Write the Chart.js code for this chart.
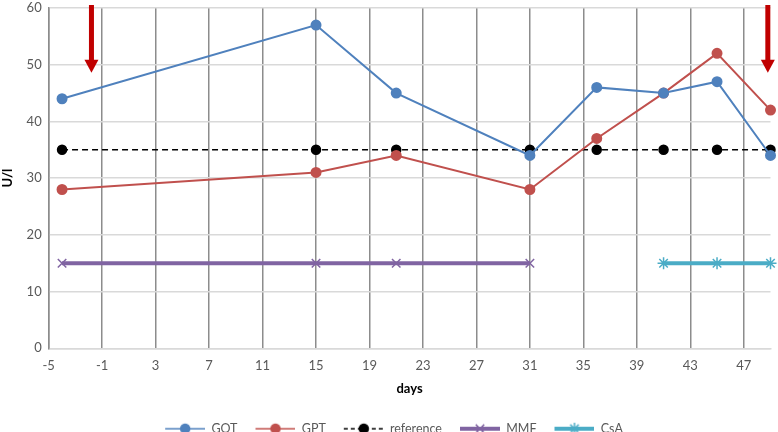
<!DOCTYPE html>
<html>
<head>
<meta charset="utf-8">
<script src="https://cdn.jsdelivr.net/npm/chart.js@4/dist/chart.umd.min.js"></script>
<style>
  html, body { margin: 0; padding: 0; background: #fff; }
  #wrap { width: 778px; height: 432px; }
</style>
</head>
<body>
<div id="wrap"><canvas id="lineChart"></canvas></div>
<script>
const days = [-4, 15, 21, 31, 36, 41, 45, 49];
const gotValues = [44, 57, 45, 34, 46, 45, 47, 34];
const gptValues = [28, 31, 34, 28, 37, 45, 52, 42];
const referenceValues = [35, 35, 35, 35, 35, 35, 35, 35];
const mmfDays = [-4, 15, 21, 31];
const mmfValues = [15, 15, 15, 15];
const csaDays = [41, 45, 49];
const csaValues = [15, 15, 15];
const xTicks = [-5, -1, 3, 7, 11, 15, 19, 23, 27, 31, 35, 39, 43, 47];
const arrowDays = [-1.8, 48.8];

Chart.defaults.font.family = 'Lato'
Chart.defaults.font.size = 13
Chart.defaults.color = '#595959'

const toPoints = (xs, ys) => xs.map((x, i) => ({ x: x, y: ys[i] }));

// line+marker picture for the legend, blank space on the left keeps items apart
const legendIcon = (color, width, dash, style, radius) => {
  const c = document.createElement('canvas');
  c.width = 54;
  c.height = 14;
  const ctx = c.getContext('2d');
  ctx.strokeStyle = color;
  ctx.fillStyle = color;
  ctx.lineWidth = width;
  ctx.setLineDash(dash);
  ctx.beginPath();
  ctx.moveTo(14, 7);
  ctx.lineTo(54, 7);
  ctx.stroke();
  ctx.setLineDash([]);
  ctx.lineWidth = 1.5;
  Chart.helpers.drawPoint(ctx, { pointStyle: style, radius: radius, borderWidth: 1.5 }, 34, 7);
  if (style === 'circle') ctx.fill();
  return c;
};

const arrowPlugin = {
  id: 'arrows',
  afterDatasetsDraw(chart) {
    const { ctx, scales: { x, y } } = chart;
    ctx.save();
    ctx.fillStyle = '#c00000';
    arrowDays.forEach((d) => {
      const px = x.getPixelForValue(d);
      const top = y.getPixelForValue(60) - 3;
      const tip = y.getPixelForValue(48.6);
      ctx.fillRect(px - 2.5, top, 5, tip - top - 10);
      ctx.beginPath();
      ctx.moveTo(px - 7, tip - 13);
      ctx.lineTo(px + 7, tip - 13);
      ctx.lineTo(px, tip);
      ctx.closePath();
      ctx.fill();
    });
    ctx.restore();
  }
};

const icons = [
  legendIcon('#4f81bd', 1.5, [], 'circle', 4.5),
  legendIcon('#c0504d', 1.5, [], 'circle', 4.5),
  legendIcon('#000000', 1.5, [4, 3], 'circle', 4.5),
  legendIcon('#8064a2', 4, [], 'crossRot', 6),
  legendIcon('#4bacc6', 4, [], 'star', 6)
];

new Chart(document.getElementById('lineChart'), {
  type: 'line',
  data: {
    datasets: [{
      label: 'GOT',
      data: toPoints(days, gotValues),
      borderColor: '#4f81bd',
      backgroundColor: '#4f81bd',
      borderWidth: 2,
      pointRadius: 4.5,
      pointStyle: 'circle'
    }, {
      label: 'GPT',
      data: toPoints(days, gptValues),
      borderColor: '#c0504d',
      backgroundColor: '#c0504d',
      borderWidth: 2,
      pointRadius: 4.5,
      pointStyle: 'circle'
    }, {
      label: 'reference',
      data: toPoints(days, referenceValues),
      borderColor: '#000000',
      backgroundColor: '#000000',
      borderWidth: 1.5,
      borderDash: [6, 4],
      pointRadius: 4.5,
      pointStyle: 'circle'
    }, {
      label: 'MMF',
      data: toPoints(mmfDays, mmfValues),
      borderColor: '#8064a2',
      backgroundColor: '#8064a2',
      borderWidth: 4,
      pointRadius: 6,
      pointBorderWidth: 1.5,
      pointStyle: 'crossRot'
    }, {
      label: 'CsA',
      data: toPoints(csaDays, csaValues),
      borderColor: '#4bacc6',
      backgroundColor: '#4bacc6',
      borderWidth: 4,
      pointRadius: 6,
      pointBorderWidth: 1.5,
      pointStyle: 'star'
    }]
  },
  options: {
    responsive: true,
    maintainAspectRatio: false,
    animation: false,
    clip: false,
    layout: { padding: { top: 8, right: 4, left: 0, bottom: -13 } },
    plugins: {
      tooltip: { enabled: false },
      legend: {
        position: 'bottom',
        labels: {
          usePointStyle: true,
          pointStyleWidth: 54,
          font: { size: 12.5 },
          padding: 4,
          generateLabels: (chart) =>
            Chart.defaults.plugins.legend.labels.generateLabels(chart).map((item, i) => {
              item.pointStyle = icons[i];
              return item;
            })
        }
      }
    },
    scales: {
      x: {
        type: 'linear',
        min: -5,
        max: 49,
        afterBuildTicks: (scale) => {
          scale.ticks = xTicks.map((v) => ({ value: v }));
        },
        grid: { color: '#8c8c8c', lineWidth: 1.5, drawTicks: false },
        border: { color: '#d9d9d9', width: 1.5 },
        ticks: { padding: 10, maxRotation: 0, autoSkip: false },
        title: { display: true, text: 'days', font: { weight: 'bold', size: 13 }, color: '#000', padding: { top: -3, bottom: 22 } }
      },
      y: {
        min: 0,
        max: 60,
        afterFit: (scale) => {
          scale.paddingTop = 0;
        },
        ticks: { stepSize: 10, padding: 7 },
        grid: { color: '#d9d9d9', lineWidth: 1.5, drawTicks: false },
        border: { color: '#8c8c8c', width: 1.5 },
        title: { display: true, text: 'U/l', font: { weight: 'bold', size: 13 }, color: '#000', padding: { top: 0, bottom: 4 } }
      }
    }
  },
  plugins: [arrowPlugin]
});
</script>
</body>
</html>
